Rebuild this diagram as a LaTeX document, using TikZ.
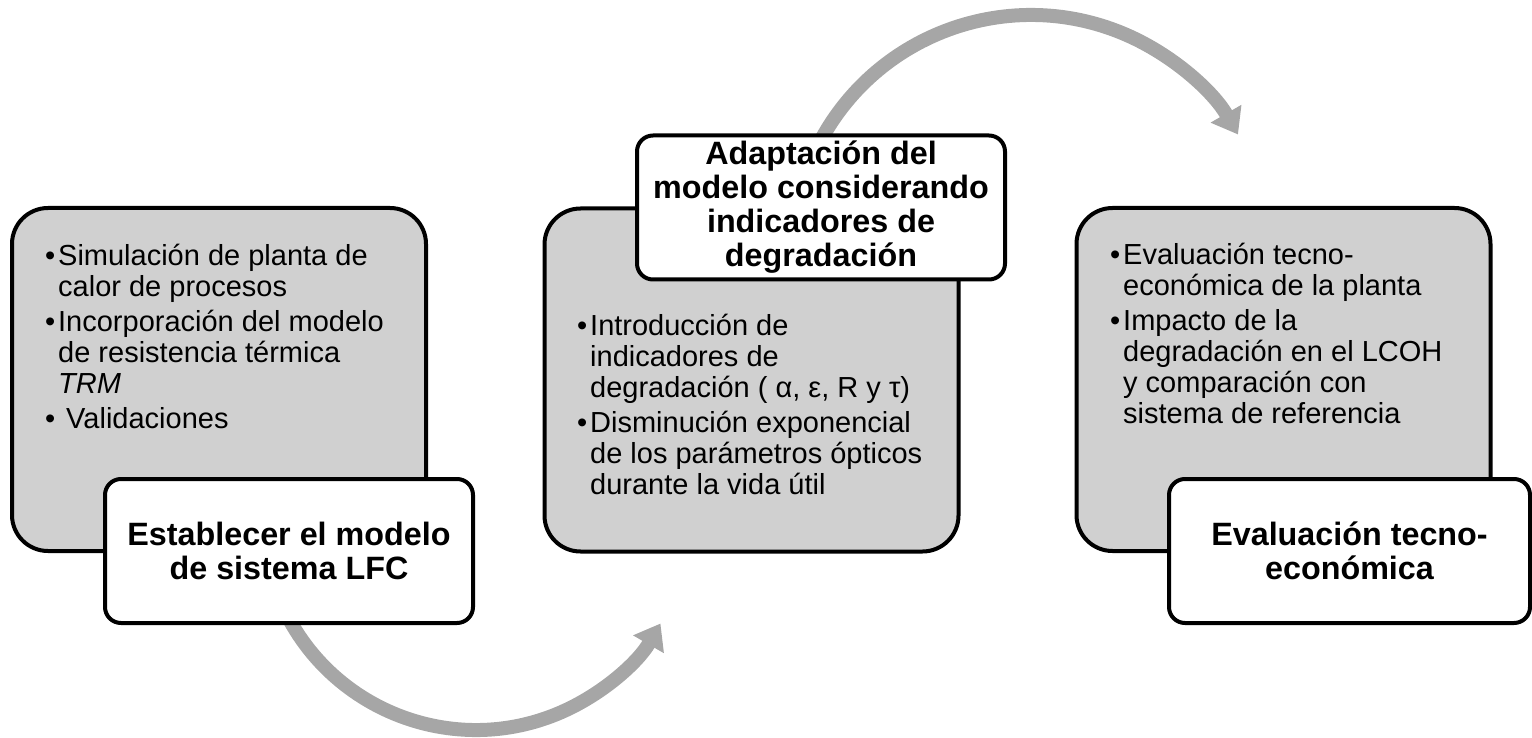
\documentclass[tikz,border=0pt]{standalone}
\usepackage{fontspec}
\setmainfont{Liberation Sans}
\usepackage{tikz}
\usepackage{xcolor}
\usetikzlibrary{arrows.meta}
\definecolor{boxgray}{RGB}{208,208,208}
\definecolor{arrowgray}{RGB}{166,166,166}
\newcommand{\bul}{\llap{•\hspace{3pt}}}

\begin{document}
\begin{tikzpicture}[x=1pt, y=-1pt,
	panel/.style={draw=black, line width=4pt, fill=boxgray, rounded corners=36pt, minimum width=414pt, minimum height=343pt, inner sep=0pt},
	titlebox/.style={draw=black, line width=4pt, fill=white, rounded corners=16pt, minimum width=368pt, minimum height=144pt, inner sep=0pt, align=center, font=\fontsize{32.3}{34}\selectfont\bfseries},
	bullets/.style={anchor=base west, align=left, inner sep=0pt, font=\fontsize{29}{31}\selectfont},
	cycle/.style={draw=arrowgray, line width=14pt, -{Triangle[length=24pt, width=34pt]}}]
	\useasboundingbox (0,0) rectangle (1532,738);
	\coordinate (hubA) at (476,517);
	\coordinate (hubB) at (1031,254);
	\draw[cycle] ([shift={(155:213)}]hubA) arc[start angle=155, end angle=30, radius=213];
	\draw[cycle] ([shift={(206:239)}]hubB) arc[start angle=206, end angle=330, radius=239];
	\node[panel] (procA) at (219,379.5) {};
	\node[panel] (procB) at (751.5,380) {};
	\node[panel] (procC) at (1283.5,379.5) {};
	\node[titlebox] (stepA) at (289,551) {Establecer el modelo\\de sistema LFC};
	\node[titlebox] (stepB) at (821,207.5) {Adaptación del\\modelo considerando\\indicadores de\\degradación};
	\node[titlebox, minimum width=361pt] (stepC) at (1349.5,551) {Evaluación tecno-\\económica};
	\node[bullets] (listA) at (58,428) {\bul Simulación de planta de\\calor de procesos\\[4pt]\bul Incorporación del modelo\\de resistencia térmica\\\textit{TRM}\\[4pt]\bul\ Validaciones};
	\node[bullets] (listB) at (590,494) {\bul Introducción de\\indicadores de\\degradación ( α, ε, R y τ)\\[4pt]\bul Disminución exponencial\\de los parámetros ópticos\\durante la vida útil};
	\node[bullets] (listC) at (1123,423) {\bul Evaluación tecno-\\económica de la planta\\[4pt]\bul Impacto de la\\degradación en el LCOH\\y comparación con\\sistema de referencia};
\end{tikzpicture}
\end{document}
